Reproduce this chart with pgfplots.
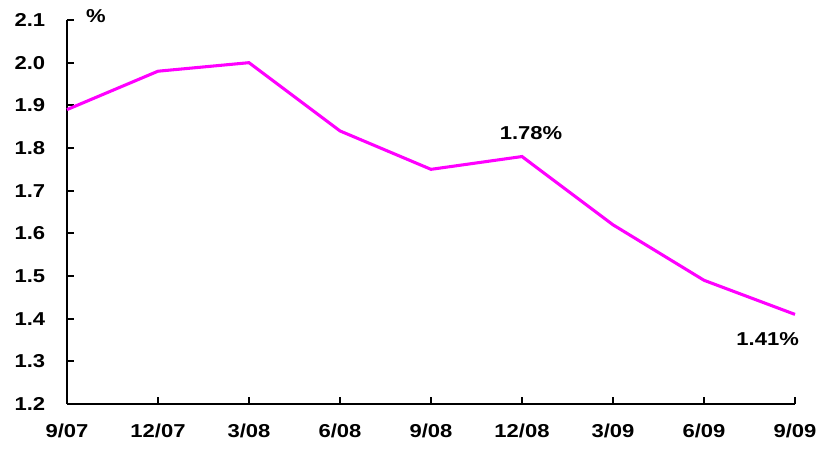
\documentclass[border=0pt]{standalone}
\usepackage{pgfplots}
\pgfplotsset{compat=1.18}
\usepackage{fontspec}
\setmainfont{Liberation Sans}[FakeStretch=1.18]
\definecolor{mag}{RGB}{255,0,255}
\begin{document}
\fontsize{14}{16}\selectfont\bfseries
\begin{tikzpicture}
\path[use as bounding box] (-50.25pt,-34.5pt) rectangle (564pt,303pt);
\begin{axis}[
  at={(0,0)}, anchor=south west,
  scale only axis, width=546pt, height=288pt,
  xmin=0, xmax=8, ymin=1.2, ymax=2.1,
  xtick={0,...,8},
  xticklabels={9/07,12/07,3/08,6/08,9/08,12/08,3/09,6/09,9/09},
  ytick={1.2,1.3,...,2.1},
  yticklabel style={/pgf/number format/fixed,/pgf/number format/fixed zerofill,/pgf/number format/precision=1, xshift=-11.5pt},
  xticklabel style={yshift=-10pt},
  /pgf/number format/assume math mode=true,
  tick label style={font=\fontsize{14}{16}\selectfont\bfseries},
  axis x line*=bottom, axis y line*=left,
  axis line style={line width=1.5pt,-},
  tick style={line width=1.5pt,black},
  major tick length=5pt,
  tick align=inside,
  clip=false,
]
\addplot[mag, line width=2.3pt] coordinates {
(0,1.89) (1,1.98) (2,2.00) (3,1.84) (4,1.75) (5,1.78) (6,1.62) (7,1.49) (8,1.41)};
\node at (axis cs:5.1,1.835) {1.78\%};
\node at (axis cs:7.7,1.352) {1.41\%};
\node at (rel axis cs:0,1) [xshift=21.75pt, yshift=3pt] {\%};
\end{axis}
\end{tikzpicture}
\end{document}
